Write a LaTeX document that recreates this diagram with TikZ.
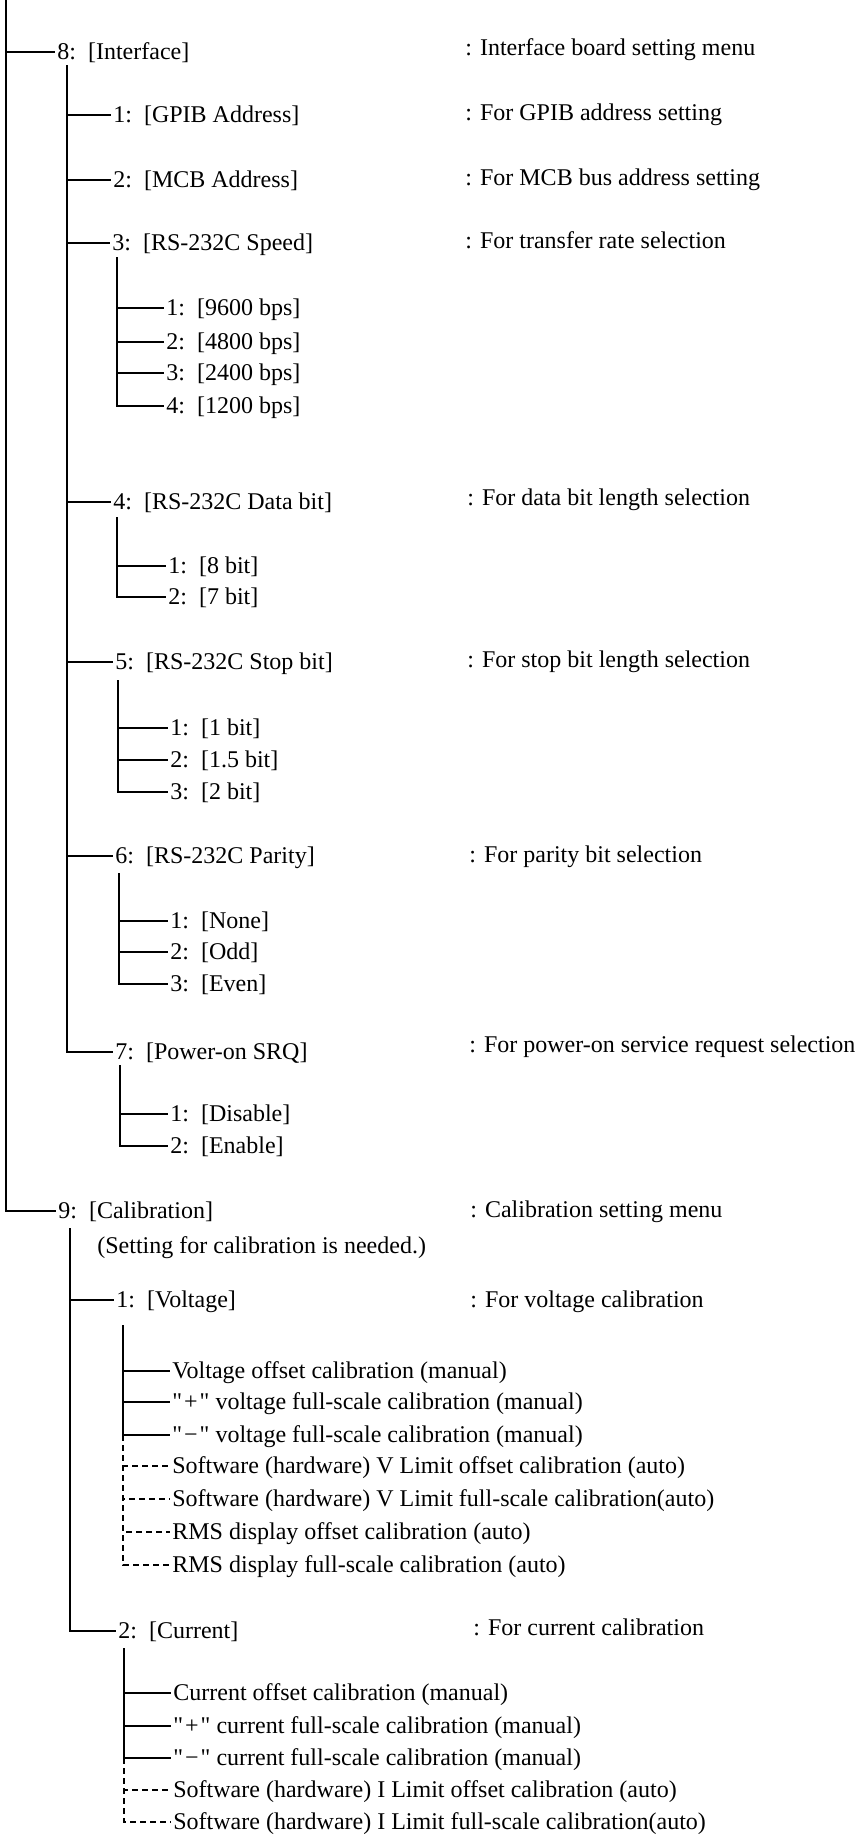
\documentclass[tikz,border=0pt]{standalone}
\usepackage{fontspec}
\setmainfont{Liberation Serif}
\newfontfamily\qfont{Liberation Serif}
\begin{document}
\begin{tikzpicture}[x=0.5pt,y=-0.5pt,
  tree/.style={line width=0.6pt},
  dtree/.style={line width=0.6pt, dash pattern=on 3pt off 2pt},
  item/.style={anchor=west, inner xsep=1pt, inner ysep=0pt, text height=9pt, text depth=2pt, font=\fontsize{12}{14}\selectfont},
  desc/.style={item}]
\useasboundingbox (0,0) rectangle (858,1836);
\newcommand\gp{\hspace{0.5em}}
\newcommand\qsign[1]{{\qfont"\kern1pt#1\kern1pt"}}
% ---------- level 0 ----------
\coordinate (top) at (6,0);
\node[item] (n8) at (55,52) {8:\gp[Interface]};
\node[desc] (d8) at (463,48) {: Interface board setting menu};
\node[item] (n9) at (56,1211) {9:\gp[Calibration]};
\node[desc] (d9) at (468,1210) {: Calibration setting menu};
\node[item] (note) at (95,1246) {(Setting for calibration is needed.)};
\draw[tree] (top) |- (n8.west);
\draw[tree] (top) |- (n9.west);
% ---------- children of 8 ----------
\coordinate (v8) at (67,65);
\node[item] (g1) at (111,115) {1:\gp[GPIB Address]};
\node[item] (g2) at (111,180) {2:\gp[MCB Address]};
\node[item] (g3) at (110,243) {3:\gp[RS-232C Speed]};
\node[item] (g4) at (111,502) {4:\gp[RS-232C Data bit]};
\node[item] (g5) at (113,662) {5:\gp[RS-232C Stop bit]};
\node[item] (g6) at (113,856) {6:\gp[RS-232C Parity]};
\node[item] (g7) at (113,1052) {7:\gp[Power-on SRQ]};
\node[desc] (dg1) at (463,113) {: For GPIB address setting};
\node[desc] (dg2) at (463,178) {: For MCB bus address setting};
\node[desc] (dg3) at (463,241) {: For transfer rate selection};
\node[desc] (dg4) at (465,498) {: For data bit length selection};
\node[desc] (dg5) at (465,660) {: For stop bit length selection};
\node[desc] (dg6) at (467,855) {: For parity bit selection};
\node[desc] (dg7) at (467,1045) {: For power-on service request selection};
\foreach \c in {g1,g2,g3,g4,g5,g6,g7} \draw[tree] (v8) |- (\c.west);
% speed
\coordinate (v3) at (117,257);
\node[item] (s1) at (164,308) {1:\gp[9600 bps]};
\node[item] (s2) at (164,342) {2:\gp[4800 bps]};
\node[item] (s3) at (164,373) {3:\gp[2400 bps]};
\node[item] (s4) at (164,406) {4:\gp[1200 bps]};
\foreach \c in {s1,s2,s3,s4} \draw[tree] (v3) |- (\c.west);
% data bit
\coordinate (v4) at (117,517);
\node[item] (b1) at (166,566) {1:\gp[8 bit]};
\node[item] (b2) at (166,597) {2:\gp[7 bit]};
\foreach \c in {b1,b2} \draw[tree] (v4) |- (\c.west);
% stop bit
\coordinate (v5) at (118,680);
\node[item] (t1) at (168,728) {1:\gp[1 bit]};
\node[item] (t2) at (168,760) {2:\gp[1.5 bit]};
\node[item] (t3) at (168,792) {3:\gp[2 bit]};
\foreach \c in {t1,t2,t3} \draw[tree] (v5) |- (\c.west);
% parity
\coordinate (v6) at (119,873);
\node[item] (p1) at (168,921) {1:\gp[None]};
\node[item] (p2) at (168,952) {2:\gp[Odd]};
\node[item] (p3) at (168,984) {3:\gp[Even]};
\foreach \c in {p1,p2,p3} \draw[tree] (v6) |- (\c.west);
% power-on SRQ
\coordinate (v7) at (120,1065);
\node[item] (q1) at (168,1114) {1:\gp[Disable]};
\node[item] (q2) at (168,1146) {2:\gp[Enable]};
\foreach \c in {q1,q2} \draw[tree] (v7) |- (\c.west);
% ---------- children of 9 ----------
\coordinate (v9) at (70,1228);
\node[item] (c1) at (114,1300) {1:\gp[Voltage]};
\node[item] (c2) at (116,1631) {2:\gp[Current]};
\node[desc] (dc1) at (468,1300) {: For voltage calibration};
\node[desc] (dc2) at (471,1628) {: For current calibration};
\foreach \c in {c1,c2} \draw[tree] (v9) |- (\c.west);
% voltage
\coordinate (vV) at (123,1325);
\node[item] (vc1) at (170,1371) {Voltage offset calibration (manual)};
\node[item] (vc2) at (170,1402) {\qsign{+} voltage full-scale calibration (manual)};
\node[item] (vc3) at (170,1435) {\qsign{−} voltage full-scale calibration (manual)};
\node[item] (vc4) at (170,1466) {Software (hardware) V Limit offset calibration (auto)};
\node[item] (vc5) at (170,1499) {Software (hardware) V Limit full-scale calibration(auto)};
\node[item] (vc6) at (170,1532) {RMS display offset calibration (auto)};
\node[item] (vc7) at (170,1565) {RMS display full-scale calibration (auto)};
\foreach \c in {vc1,vc2,vc3} \draw[tree] (vV) |- (\c.west);
\coordinate (vVd) at (vV |- vc3.west);
\foreach \c in {vc4,vc5,vc6,vc7} \draw[dtree] (vVd) |- (\c.west);
% current
\coordinate (vI) at (124,1648);
\node[item] (ic1) at (171,1693) {Current offset calibration (manual)};
\node[item] (ic2) at (171,1726) {\qsign{+} current full-scale calibration (manual)};
\node[item] (ic3) at (171,1758) {\qsign{−} current full-scale calibration (manual)};
\node[item] (ic4) at (171,1790) {Software (hardware) I Limit offset calibration (auto)};
\node[item] (ic5) at (171,1822) {Software (hardware) I Limit full-scale calibration(auto)};
\foreach \c in {ic1,ic2,ic3} \draw[tree] (vI) |- (\c.west);
\coordinate (vId) at (vI |- ic3.west);
\foreach \c in {ic4,ic5} \draw[dtree] (vId) |- (\c.west);
\end{tikzpicture}
\end{document}
